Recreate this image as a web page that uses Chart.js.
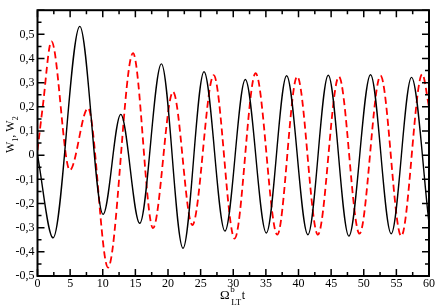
<!DOCTYPE html>
<html><head><meta charset="utf-8">
<script src="https://cdn.jsdelivr.net/npm/chart.js@4/dist/chart.umd.min.js"></script>
<style>html,body{margin:0;padding:0;background:#fff}canvas{display:block}</style>
</head><body>
<canvas id="c" width="436" height="308"></canvas>
<script>
// W1 (black solid): time and value read at extrema
const tBlack = [0, 2.39, 6.48, 10.05, 12.76, 15.67, 18.99, 22.3, 25.52, 28.73, 31.85, 35.07, 38.18, 41.44, 44.56, 47.72, 51.04, 54.21, 57.32, 60];
const wBlack = [0, -0.342, 0.533, -0.245, 0.169, -0.282, 0.378, -0.385, 0.345, -0.314, 0.313, -0.322, 0.329, -0.329, 0.331, -0.335, 0.333, -0.325, 0.322, -0.28];
// W2 (red dashed)
const tRed = [0, 0.8, 2.14, 4.95, 7.75, 10.81, 14.64, 17.7, 20.77, 23.73, 27.0, 30.21, 33.43, 36.75, 39.8, 42.97, 46.19, 49.35, 52.57, 55.74, 58.96, 60];
const wRed = [0.02, 0.2, 0.471, -0.062, 0.195, -0.465, 0.422, -0.302, 0.262, -0.289, 0.331, -0.345, 0.339, -0.329, 0.326, -0.329, 0.325, -0.325, 0.329, -0.335, 0.335, 0.2];

const xTickValues = [0, 5, 10, 15, 20, 25, 30, 35, 40, 45, 50, 55, 60];
const xTickLabels = ['0', '5', '10', '15', '20', '25', '30', '35', '40', '45', '50', '55', '60'];
const yTickValues = [-0.5, -0.4, -0.3, -0.2, -0.1, 0, 0.1, 0.2, 0.3, 0.4, 0.5, 0.6];
const yTickLabels = ['-0,5', '-0,4', '-0,3', '-0,2', '-0,1', '0', '0,1', '0,2', '0,3', '0,4', '0,5', ''];

const FONT = '"Liberation Serif", "Times New Roman", serif';

const framePlugin = {
  id: 'frame',
  afterDraw(chart) {
    const { ctx, chartArea: a, scales: { x, y } } = chart;
    ctx.save();
    ctx.strokeStyle = '#000';
    ctx.lineWidth = 1.5;
    ctx.beginPath();
    const MAJ = 7, MIN = 4;
    const xs = [], xm = [];
    for (let i = 0; i < xTickValues.length; i++) {
      xs.push(x.getPixelForValue(xTickValues[i]));
      if (i > 0) xm.push(x.getPixelForValue((xTickValues[i] + xTickValues[i - 1]) / 2));
    }
    const ys = [], ym = [];
    for (let i = 0; i < yTickValues.length; i++) {
      ys.push(y.getPixelForValue(yTickValues[i]));
      if (i > 0) ym.push(y.getPixelForValue((yTickValues[i] + yTickValues[i - 1]) / 2));
    }
    xs.forEach(p => { ctx.moveTo(p, a.bottom); ctx.lineTo(p, a.bottom - MAJ); ctx.moveTo(p, a.top); ctx.lineTo(p, a.top + MAJ); });
    xm.forEach(p => { ctx.moveTo(p, a.bottom); ctx.lineTo(p, a.bottom - MIN); ctx.moveTo(p, a.top); ctx.lineTo(p, a.top + MIN); });
    ys.forEach(p => { ctx.moveTo(a.left, p); ctx.lineTo(a.left + MAJ, p); ctx.moveTo(a.right, p); ctx.lineTo(a.right - MAJ, p); });
    ym.forEach(p => { ctx.moveTo(a.left, p); ctx.lineTo(a.left + MIN, p); ctx.moveTo(a.right, p); ctx.lineTo(a.right - MIN, p); });
    ctx.stroke();
    ctx.lineWidth = 2;
    ctx.strokeRect(a.left, a.top, a.right - a.left, a.bottom - a.top);

    // x title: Ω^b_LT t
    ctx.fillStyle = '#000';
    ctx.textBaseline = 'alphabetic';
    ctx.textAlign = 'left';
    let cx = 220, by = 299;
    ctx.font = '13px ' + FONT;
    ctx.fillText('Ω', cx, by);
    cx += ctx.measureText('Ω').width;
    ctx.font = '9px ' + FONT;
    ctx.fillText('b', cx + 0.5, by - 7);
    ctx.fillText('LT', cx + 1.5, by + 6);
    cx += 1.5 + ctx.measureText('LT').width + 0.5;
    ctx.font = '12px ' + FONT;
    ctx.fillText('t', cx, by);

    // y title: W1, W2 rotated
    ctx.translate(14, 153);
    ctx.rotate(-Math.PI / 2);
    let lx = 0;
    const part = (txt, size, dy) => {
      ctx.font = size + 'px ' + FONT;
      ctx.fillText(txt, lx, dy);
      lx += ctx.measureText(txt).width;
    };
    part('W', 12, 0);
    part('1', 8, 4);
    part(', W', 12, 0);
    part('2', 8, 4);
    ctx.restore();
  }
};

new Chart(document.getElementById('c'), {
  type: 'line',
  data: {
    datasets: [
      { label: 'W1', data: tBlack.map((t, i) => ({ x: t, y: wBlack[i] })), borderColor: '#000000', borderWidth: 1.4, pointRadius: 0, cubicInterpolationMode: 'monotone', fill: false },
      { label: 'W2', data: tRed.map((t, i) => ({ x: t, y: wRed[i] })), borderColor: '#ff0000', borderWidth: 1.8, borderDash: [7, 4], pointRadius: 0, cubicInterpolationMode: 'monotone', fill: false }
    ]
  },
  options: {
    responsive: false, animation: false, devicePixelRatio: 1,
    layout: { padding: { top: 1, right: 7, left: 0, bottom: 0 } },
    plugins: { legend: { display: false }, tooltip: { enabled: false } },
    scales: {
      x: {
        type: 'linear', min: 0, max: 60,
        grid: { display: false, drawTicks: false }, border: { display: false },
        afterBuildTicks: s => { s.ticks = xTickValues.map(v => ({ value: v })); },
        ticks: { callback: (v, i) => xTickLabels[i], font: { family: FONT, size: 12 }, color: '#000', padding: 1, maxRotation: 0, autoSkip: false },
        afterFit: s => { s.height = 32; }
      },
      y: {
        type: 'linear', min: -0.5, max: 0.6,
        grid: { display: false, drawTicks: false }, border: { display: false },
        afterBuildTicks: s => { s.ticks = yTickValues.map(v => ({ value: v })); },
        ticks: { callback: (v, i) => yTickLabels[i], font: { family: FONT, size: 12 }, color: '#000', padding: 3, autoSkip: false },
        afterFit: s => { s.width = 37.5; }
      }
    }
  },
  plugins: [framePlugin]
});
</script>
</body></html>
